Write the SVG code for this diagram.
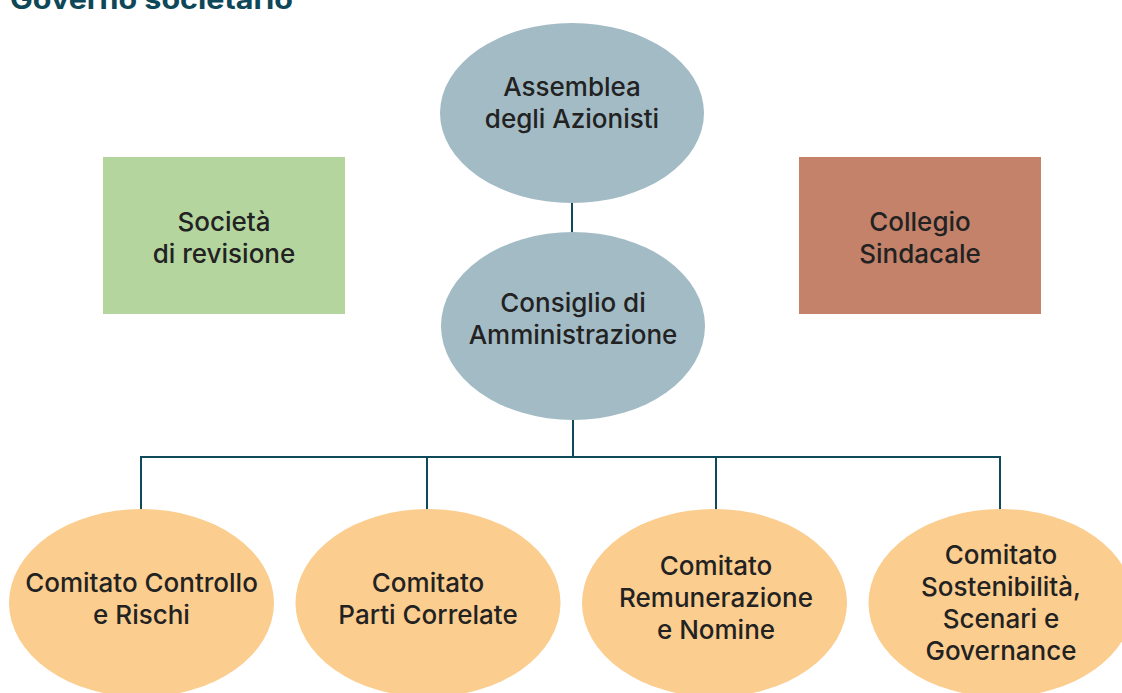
<svg xmlns="http://www.w3.org/2000/svg" width="1122" height="693" viewBox="0 0 1122 693">
<style>
.lbl{font-family:Inter,"Noto Sans","Liberation Sans",sans-serif;font-size:26px;font-weight:500;fill:#222;text-anchor:middle}
.top{fill:#a3bbc5}
.com{fill:#fbcd8f}
.conn{stroke:#0f4a5a;stroke-width:2;fill:none}
</style>
<rect width="1122" height="693" fill="#fff"/>
<text x="10" y="9" font-family="Inter,'Liberation Sans',sans-serif" font-size="27" font-weight="700" fill="#0e4858" textLength="283" lengthAdjust="spacingAndGlyphs">Governo societario</text>
<g id="connectors">
<line class="conn" x1="572" y1="202" x2="572" y2="233"/>
<line class="conn" x1="573" y1="419" x2="573" y2="457"/>
<polyline class="conn" points="141,510 141,457 1000,457 1000,510"/>
<line class="conn" x1="427" y1="457" x2="427" y2="510"/>
<line class="conn" x1="716" y1="457" x2="716" y2="510"/>
</g>
<g id="assemblea">
<ellipse class="top" cx="572" cy="113" rx="132" ry="90"/>
<text class="lbl" x="572" y="96">Assemblea</text>
<text class="lbl" x="572" y="128">degli Azionisti</text>
</g>
<g id="consiglio">
<ellipse class="top" cx="573" cy="326" rx="132" ry="94"/>
<text class="lbl" x="573" y="312">Consiglio di</text>
<text class="lbl" x="573" y="344">Amministrazione</text>
</g>
<g id="societa-revisione">
<rect x="103" y="157" width="242" height="157" fill="#b4d59e"/>
<text class="lbl" x="224" y="231">Società</text>
<text class="lbl" x="224" y="263">di revisione</text>
</g>
<g id="collegio-sindacale">
<rect x="799" y="157" width="242" height="157" fill="#c4826a"/>
<text class="lbl" x="920" y="231">Collegio</text>
<text class="lbl" x="920" y="263">Sindacale</text>
</g>
<g id="comitato-controllo">
<ellipse class="com" cx="141.5" cy="603" rx="132.5" ry="94"/>
<text class="lbl" x="141.5" y="592">Comitato Controllo</text>
<text class="lbl" x="141.5" y="624">e Rischi</text>
</g>
<g id="comitato-parti">
<ellipse class="com" cx="428" cy="603" rx="132.5" ry="94"/>
<text class="lbl" x="428" y="592">Comitato</text>
<text class="lbl" x="428" y="624">Parti Correlate</text>
</g>
<g id="comitato-remunerazione">
<ellipse class="com" cx="714.5" cy="603" rx="132.5" ry="94"/>
<text class="lbl" x="716" y="575">Comitato</text>
<text class="lbl" x="716" y="607">Remunerazione</text>
<text class="lbl" x="716" y="639">e Nomine</text>
</g>
<g id="comitato-sostenibilita">
<ellipse class="com" cx="1001" cy="603" rx="132.5" ry="94"/>
<text class="lbl" x="1001" y="564">Comitato</text>
<text class="lbl" x="1001" y="596">Sostenibilità,</text>
<text class="lbl" x="1001" y="628">Scenari e</text>
<text class="lbl" x="1001" y="660">Governance</text>
</g>
</svg>
